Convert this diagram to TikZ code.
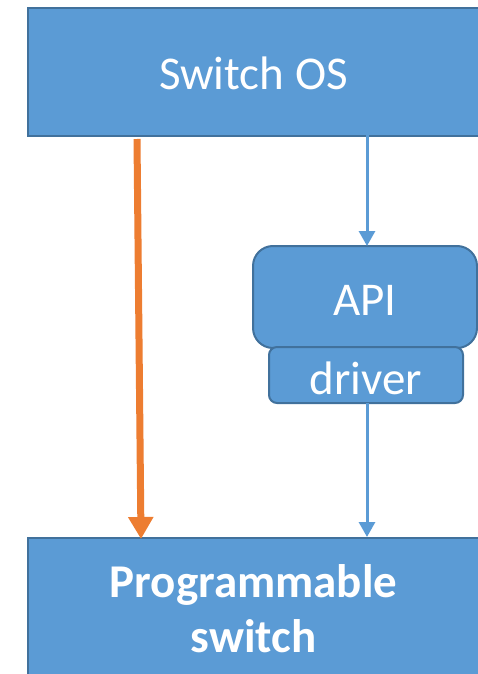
\documentclass[tikz,border=0pt]{standalone}
\usepackage{fontspec}
\setmainfont{Carlito}
\usetikzlibrary{arrows.meta}
\definecolor{boxfill}{HTML}{5B9BD5}
\definecolor{boxline}{HTML}{41719C}
\definecolor{pathorange}{HTML}{ED7D31}
\tikzset{
  block/.style={draw=boxline, fill=boxfill, line width=2pt, inner sep=0pt},
  blocktext/.style={text=white, font=\fontsize{47}{55}\selectfont, align=center, inner sep=0pt},
  bluearrow/.style={draw=boxfill, line width=3pt, -{Triangle[width=16pt,length=15pt]}},
  orangearrow/.style={draw=pathorange, line width=7pt, -{Triangle[width=24pt,length=22pt]}}
}
\begin{document}
\begin{tikzpicture}[x=1pt,y=-1pt]
  \useasboundingbox (0,0) rectangle (477,674);
  % top block, running off the right edge
  \node[block, anchor=north west, minimum width=460pt, minimum height=128pt] (os) at (27,7) {};
  \node[blocktext] (ostext) at (253.5,73) {Switch OS};
  % API and driver stack
  \node[block, rounded corners=20pt, minimum width=224pt, minimum height=102pt] (api) at (365,297) {};
  \node[blocktext] (apitext) at (365,300) {API};
  \node[block, rounded corners=8pt, minimum width=194pt, minimum height=56pt] (drv) at (366,375) {};
  \node[blocktext] (drvtext) at (366,378) {driver};
  % bottom block, running off the right and bottom edges
  \node[block, anchor=north west, minimum width=460pt, minimum height=170pt] (hw) at (27,537) {};
  \node[blocktext, font=\bfseries\fontsize{47}{55}\selectfont] (hwtext) at (253.5,609) {Programmable\\switch};
  % connector end points
  \coordinate (oa) at (137,139);
  \coordinate (ob) at (141,539);
  \coordinate (ba) at (367,135);
  \coordinate (bb) at (367,246);
  \coordinate (bc) at (367,403);
  \coordinate (bd) at (367,537);
  % connectors
  \draw[orangearrow] (oa) -- (ob);
  \draw[bluearrow] (ba) -- (bb);
  \draw[bluearrow] (bc) -- (bd);
\end{tikzpicture}
\end{document}
